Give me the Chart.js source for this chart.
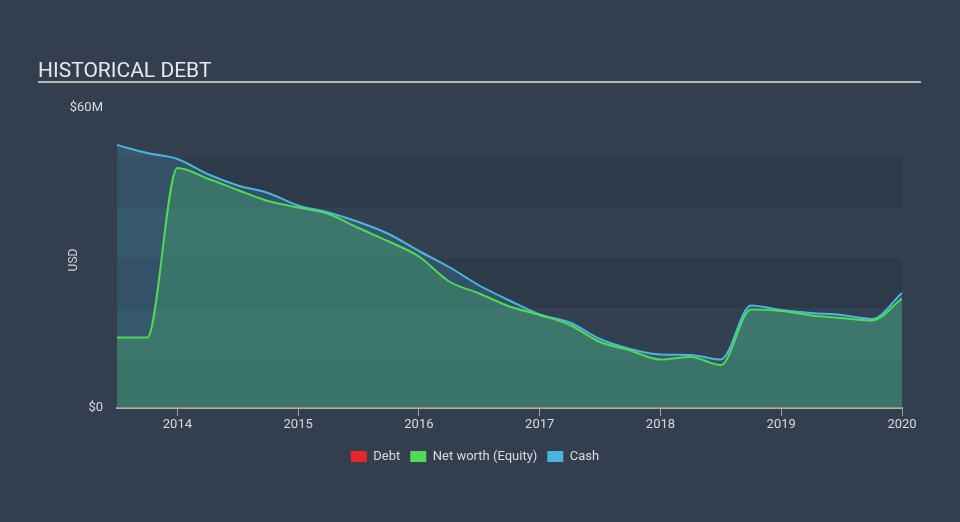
<!DOCTYPE html>
<html>
<head>
<meta charset="utf-8">
<script src="https://cdn.jsdelivr.net/npm/chart.js@4/dist/chart.umd.min.js"></script>
<style>
  html, body { margin: 0; padding: 0; background: #333f4f; }
  canvas { display: block; }
</style>
</head>
<body>
<canvas id="chart" width="960" height="522"></canvas>
<script>
// quarterly dates (decimal years)
var dates = [2013.5, 2013.75, 2014, 2014.25, 2014.5, 2014.75, 2015, 2015.25, 2015.5, 2015.75,
  2016, 2016.25, 2016.5, 2016.75, 2017, 2017.25, 2017.5, 2017.75, 2018, 2018.25, 2018.5, 2018.75,
  2019, 2019.25, 2019.5, 2019.75, 2020]

// values in $M
var debt = [0, 0, 0, 0, 0, 0, 0, 0, 0, 0, 0, 0, 0, 0, 0, 0, 0, 0, 0, 0, 0, 0, 0, 0, 0, 0, 0]
var equity = [14.1, 14.1, 48.0, 45.9, 43.6, 41.4, 40.1, 38.8, 36.0, 33.3,
  30.3, 25.3, 22.9, 20.3, 18.6, 16.6, 13.2, 11.5, 9.7, 10.2, 8.6, 19.7,
  19.4, 18.5, 18.0, 17.5, 21.9]
var cash = [52.6, 51.0, 49.8, 46.8, 44.5, 43.0, 40.5, 39.1, 37.2, 34.8,
  31.4, 28.2, 24.5, 21.5, 18.7, 17.1, 13.8, 11.8, 10.7, 10.6, 9.7, 20.5,
  19.6, 19.0, 18.6, 17.8, 23.0]

var yearTicks = [2014, 2015, 2016, 2017, 2018, 2019, 2020]
var yTicks = [0, 60]
var darkBands = [[0, 10], [20, 30], [40, 50]]

function pts(vals) {
  return vals.map(function (v, i) { return { x: dates[i], y: v } })
}

var decor = {
  id: 'decor',
  beforeDraw: function (chart) {
    var ctx = chart.ctx
    var a = chart.chartArea
    var y = chart.scales.y
    ctx.save()
    // light area under the 50M line, then darker bands
    ctx.fillStyle = '#324051'
    ctx.fillRect(a.left, y.getPixelForValue(50), a.right - a.left, y.getPixelForValue(0) - y.getPixelForValue(50))
    ctx.fillStyle = '#2d3a4a'
    darkBands.forEach(function (b) {
      var t = y.getPixelForValue(b[1])
      ctx.fillRect(a.left, t, a.right - a.left, y.getPixelForValue(b[0]) - t)
    })
    // title
    ctx.fillStyle = '#e6e8ea'
    ctx.font = '21px Roboto'
    ctx.textBaseline = 'alphabetic'
    ctx.fillText('HISTORICAL DEBT', 38, 77)
    ctx.fillStyle = '#b4b8bd'
    ctx.fillRect(38, 81, 883, 2)
    // axis title
    ctx.translate(74, 260)
    ctx.rotate(-Math.PI / 2)
    ctx.font = '12px Roboto'
    ctx.fillStyle = '#d0d4d8'
    ctx.textAlign = 'center'
    ctx.textBaseline = 'middle'
    ctx.fillText('USD', 0, 0)
    ctx.restore()
  }
}

new Chart(document.getElementById('chart'), {
  type: 'line',
  data: {
    datasets: [
      {
        label: 'Debt',
        data: pts(debt),
        borderColor: '#e0533a',
        backgroundColor: '#e8262a',
        borderWidth: 1,
        fill: false,
        pointRadius: 0
      },
      {
        label: 'Net worth (Equity)',
        data: pts(equity),
        borderColor: '#52d955',
        backgroundColor: 'rgba(74, 200, 110, 0.28)',
        borderWidth: 2,
        fill: 'origin',
        pointRadius: 0,
        cubicInterpolationMode: 'monotone'
      },
      {
        label: 'Cash',
        data: pts(cash),
        borderColor: '#4ab6de',
        backgroundColor: 'rgba(74, 182, 222, 0.2)',
        borderWidth: 2,
        fill: 'origin',
        pointRadius: 0,
        cubicInterpolationMode: 'monotone'
      }
    ]
  },
  options: {
    responsive: false,
    devicePixelRatio: 1,
    animation: false,
    events: [],
    layout: { padding: { top: 108, right: 58, left: 48, bottom: 49 } },
    scales: {
      x: {
        type: 'linear',
        min: 2013.5,
        max: 2020.0,
        afterBuildTicks: function (s) { s.ticks = yearTicks.map(function (v) { return { value: v } }) },
        afterFit: function (s) { s.height = 32 },
        ticks: {
          color: '#d6dade',
          font: { family: 'Roboto', size: 13 },
          padding: 1,
          maxRotation: 0,
          callback: function (v) { return String(v) }
        },
        grid: { drawOnChartArea: false, tickLength: 8, color: '#9aa2ac' },
        border: { color: '#aab0b8', width: 2 }
      },
      y: {
        min: 0,
        max: 60,
        afterBuildTicks: function (s) { s.ticks = yTicks.map(function (v) { return { value: v } }) },
        afterFit: function (s) { s.width = 69 },
        ticks: {
          color: '#d6dade',
          font: { family: 'Roboto', size: 13 },
          padding: 14,
          callback: function (v) { return v === 0 ? '$0' : '$' + v + 'M' }
        },
        grid: { display: false, drawTicks: false },
        border: { display: false }
      }
    },
    plugins: {
      legend: {
        position: 'bottom',
        labels: {
          color: '#d8dce0',
          font: { family: 'Roboto', size: 13 },
          boxWidth: 16,
          boxHeight: 11,
          padding: 10,
          generateLabels: function (chart) {
            return chart.data.datasets.map(function (d, i) {
              return {
                text: d.label,
                fillStyle: d.label === 'Debt' ? '#e8262a' : d.borderColor,
                strokeStyle: 'transparent',
                lineWidth: 0,
                fontColor: '#d8dce0',
                datasetIndex: i
              }
            })
          }
        }
      },
      tooltip: { enabled: false }
    }
  },
  plugins: [decor]
})
</script>
</body>
</html>
